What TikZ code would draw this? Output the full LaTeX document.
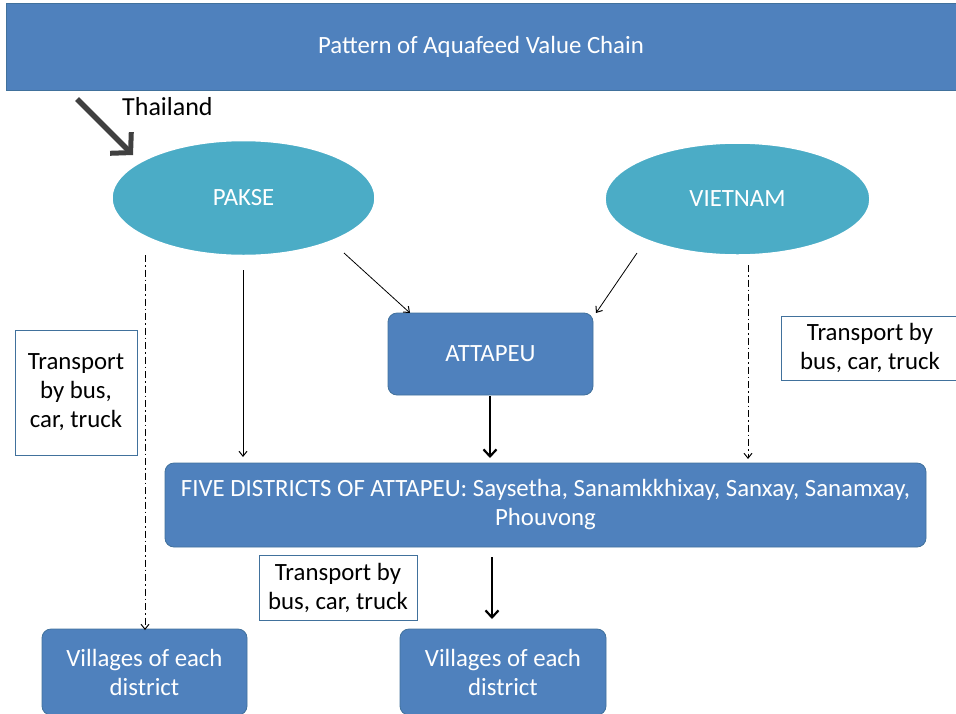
\documentclass[tikz,border=0pt]{standalone}
\usepackage{fontspec}
\setmainfont{Carlito}
\usetikzlibrary{shapes.geometric,arrows.meta}
\definecolor{boxblue}{HTML}{4F81BD}
\definecolor{boxedge}{HTML}{41719C}
\definecolor{ellcol}{HTML}{4BACC6}
\definecolor{darkarrow}{HTML}{404040}
\begin{document}
\begin{tikzpicture}[x=1pt,y=-1pt,
  font=\fontsize{24.8}{29}\selectfont,
  bluebox/.style={draw=boxedge,line width=0.8pt,fill=boxblue,text=white,rounded corners=9pt,align=center,inner sep=0pt},
  ell/.style={ellipse,draw=white,line width=1.5pt,fill=ellcol,text=white,inner sep=0pt},
  notebox/.style={draw=boxedge,line width=0.8pt,fill=white,text=black,align=center,inner sep=0pt},
  thin arrow/.style={-{Straight Barb[length=5pt,width=8pt,line width=1pt]},line width=0.8pt},
  thick arrow/.style={-{Straight Barb[length=7pt,width=13pt,line width=2.2pt]},line width=2.5pt},
  dd arrow/.style={-{Straight Barb[length=5pt,width=8pt,line width=1pt]},line width=1pt,dash pattern=on 7pt off 3pt on 1.5pt off 3pt}]
\useasboundingbox (0,0) rectangle (956,713);
% title
\node[draw=boxedge,line width=0.8pt,fill=boxblue,text=white,minimum width=950pt,minimum height=87pt,inner sep=0pt] (title) at (481,46.5) {Pattern of Aquafeed Value Chain};
% ellipses
\node[ell,minimum width=263pt,minimum height=115pt] (pakse) at (243.5,198) {PAKSE};
\node[ell,minimum width=265pt,minimum height=112pt] (viet) at (737.5,199) {VIETNAM};
% boxes
\node[bluebox,minimum width=205pt,minimum height=82pt] (att) at (490.5,354) {ATTAPEU};
\node[bluebox,minimum width=761pt,minimum height=84pt] (five) at (545.5,505) {FIVE DISTRICTS OF ATTAPEU: Saysetha, Sanamkkhixay, Sanxay, Sanamxay,\\Phouvong};
\node[bluebox,minimum width=205pt,minimum height=86pt] (vill1) at (144.5,672) {Villages of each\\district};
\node[bluebox,minimum width=206pt,minimum height=86pt] (vill2) at (503,672) {Villages of each\\district};
% note boxes
\node[notebox,minimum width=122pt,minimum height=125pt] (t1) at (76,392.5) {Transport\\by bus,\\car, truck};
\node[notebox,minimum width=178pt,minimum height=64pt] (t2) at (870,348) {Transport by\\bus, car, truck};
\node[notebox,minimum width=158pt,minimum height=65pt] (t3) at (338,587.5) {Transport by\\bus, car, truck};
% Thailand
\node[text=black,anchor=west,inner sep=0pt,font=\fontsize{26}{30}\selectfont] (thai) at (122,107) {Thailand};
\coordinate (thaistart) at (77,99);
\coordinate (thaiend) at (133,155);
\draw[-{Straight Barb[length=14pt,width=30pt,line width=5pt]},line width=5.5pt,color=darkarrow] (thaistart) -- (thaiend);
% connectors
\draw[dd arrow] (145,255) -- (145,630);
\draw[thin arrow] (243,270) -- (243,457);
\draw[thin arrow] (344,253) -- (410,313);
\draw[thin arrow] (637,253) -- (596,313);
\draw[dd arrow] (748,265) -- (748,459);
\draw[thick arrow] (490,396) -- (490,458);
\draw[thick arrow] (492,557) -- (492,619);
\end{tikzpicture}
\end{document}
